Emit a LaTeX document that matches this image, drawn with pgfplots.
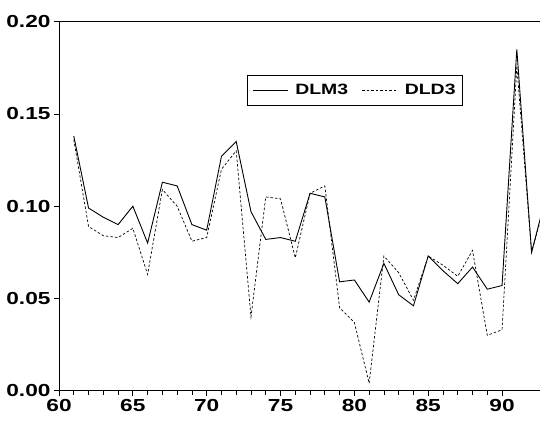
\documentclass[border=0pt]{standalone}
\usepackage{fontspec}
\setmainfont{Liberation Sans}[FakeStretch=1.3]
\usepackage{pgfplots}
\pgfplotsset{compat=1.18}

\begin{document}
\begin{tikzpicture}
\begin{axis}[
    scale only axis,
    width=481bp, height=369bp,
    xmin=60, xmax=92.57,
    ymin=0, ymax=0.20,
    separate axis lines,
    axis x line*=box,
    axis y line*=left,
    xtick pos=bottom,
    ytick pos=left,
    tick align=outside,
    xtick={60,65,...,90},
    minor x tick num=4,
    ytick={0,0.05,...,0.2},
    major tick length=5bp,
    minor tick length=4bp,
    every tick/.style={black, line width=0.8pt},
    axis line style={line width=0.9pt},
    ticklabel style={font=\bfseries\fontsize{17.5}{20}\selectfont},
    /pgf/number format/assume math mode=true,
    yticklabel style={/pgf/number format/.cd, fixed, fixed zerofill, precision=2},
    legend style={at={(rel axis cs:0.391,0.856)}, anchor=north west,
        draw=black, line width=0.6pt, legend columns=2,
        font=\bfseries\fontsize{15}{16}\selectfont,
        inner xsep=5bp, inner ysep=7bp,
        /tikz/every odd column/.append style={column sep=5bp},
        /tikz/every even column/.append style={column sep=12bp}},
    legend image code/.code={\draw[#1] (0bp,0bp) -- (35bp,0bp);},
]
\addplot[black, line width=0.9pt] coordinates {
    (61,0.138) (62,0.099) (63,0.094) (64,0.090) (65,0.100) (66,0.080)
    (67,0.113) (68,0.111) (69,0.090) (70,0.087) (71,0.127) (72,0.135)
    (73,0.097) (74,0.082) (75,0.083) (76,0.081) (77,0.107) (78,0.105)
    (79,0.059) (80,0.060) (81,0.048) (82,0.069) (83,0.052) (84,0.046)
    (85,0.073) (86,0.065) (87,0.058) (88,0.067) (89,0.055) (90,0.057)
    (91,0.185) (92,0.075) (93,0.106)
};
\addlegendentry{DLM3}
\addplot[black, line width=0.7pt, dash pattern=on 2.5bp off 2bp] coordinates {
    (61,0.136) (62,0.089) (63,0.084) (64,0.083) (65,0.088) (66,0.063)
    (67,0.109) (68,0.100) (69,0.081) (70,0.083) (71,0.120) (72,0.130)
    (73,0.040) (74,0.105) (75,0.104) (76,0.072) (77,0.107) (78,0.111)
    (79,0.045) (80,0.037) (81,0.004) (82,0.073) (83,0.064) (84,0.049)
    (85,0.073) (86,0.068) (87,0.062) (88,0.076) (89,0.030) (90,0.033)
    (91,0.176) (92,0.075) (93,0.104)
};
\addlegendentry{DLD3}
\coordinate (bl) at (rel axis cs:-0.1227,-0.0875);
\coordinate (tr) at (rel axis cs:1,1.0588);
\end{axis}
\pgfresetboundingbox
\useasboundingbox (bl) rectangle (tr);
\end{tikzpicture}
\end{document}
